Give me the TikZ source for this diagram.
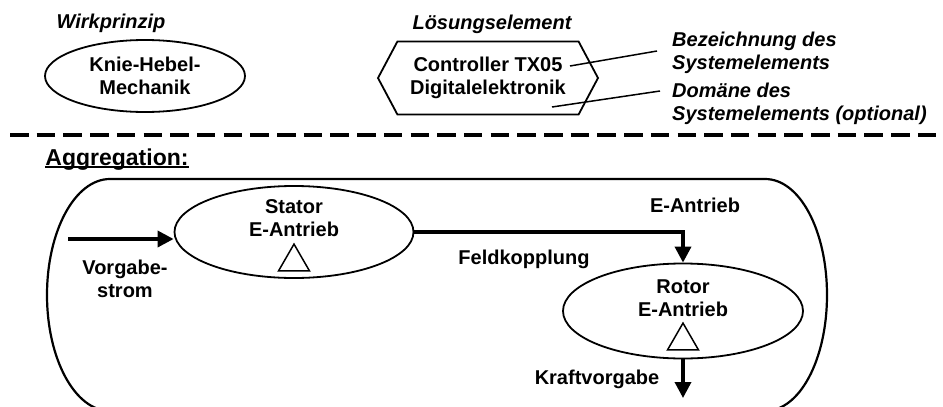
\documentclass[tikz,border=0pt]{standalone}
\usepackage{fontspec}
\setmainfont{Liberation Sans}
\usetikzlibrary{
	arrows.meta,
	positioning,
	calc,
	shapes.geometric,
	shapes.symbols
}

\begin{document}
\begin{tikzpicture}[
		x=1pt, y=-1pt,
		every node/.style={font=\bfseries\fontsize{20}{23}\selectfont, align=center, inner sep=0pt},
		heading/.style={font=\bfseries\itshape\fontsize{20}{23}\selectfont},
		note/.style={font=\bfseries\itshape\fontsize{20}{23.5}\selectfont, align=left, anchor=west},
		principle/.style={draw, ellipse, line width=1.8pt, minimum width=200pt, minimum height=72pt},
		solution/.style={draw, signal, signal to=west and east, signal pointer angle=124, line width=1.8pt, minimum width=220pt, minimum height=73pt},
		part/.style={draw, ellipse, line width=1.8pt, minimum width=239pt, minimum height=92pt},
		marker/.style={draw, regular polygon, regular polygon sides=3, line width=1.5pt, minimum size=35.8pt},
		frame/.style={line width=2.2pt},
		sep/.style={line width=4.5pt, dash pattern=on 18.5pt off 8.2pt},
		callout/.style={line width=1.5pt},
		arrow/.style={line width=3.5pt, -{Triangle[length=16pt, width=16pt]}}
		]
		
		\useasboundingbox (0,0) rectangle (943,407);
		\clip (0,0) rectangle (943,407);
		
		% Legend
		\node[heading] (wirk) at (111,23) {Wirkprinzip};
		\node[principle] (knie) at (145,76) {Knie-Hebel-\\Mechanik};
		\node[heading] (loes) at (492,24) {Lösungselement};
		\node[solution] (ctrl) at (488,78) {Controller TX05\\Digitalelektronik};
		\node[note] (bez) at (672,53) {Bezeichnung des\\Systemelements};
		\node[note] (dom) at (672,104) {Domäne des\\Systemelements (optional)};
		
		% Callouts
		\coordinate (txend) at (570,66);
		\coordinate (domend) at (552,107);
		\draw[callout] (txend) -- ([xshift=-15pt, yshift=2pt]bez.west);
		\draw[callout] (domend) -- ([xshift=-12pt, yshift=13pt]dom.west);
		
		% Separator
		\coordinate (sepL) at (10,135);
		\coordinate (sepR) at (943,135);
		\draw[sep] (sepL) -- (sepR);
		
		% Aggregation
		\node[font=\bfseries\fontsize{23}{26}\selectfont] (aggr) at (117,160) {Aggregation:};
		\draw[line width=2.2pt] ([yshift=-1.5pt]aggr.base west) -- ([yshift=-1.5pt]aggr.base east);
		\draw[frame] (110,179) -- (765,179)
			.. controls (800,179) and (827,231) .. (827,295)
			.. controls (827,359) and (800,411) .. (765,411)
			-- (110,411)
			.. controls (75,411) and (47,359) .. (47,295)
			.. controls (47,231) and (75,179) .. cycle;
		\node (antrieb) at (695,205) {E-Antrieb};
		
		% Parts
		\node[part] (stator) at (294,232) {};
		\node (statortxt) at (294,218) {Stator\\E-Antrieb};
		\node[marker] (statortri) at (294,262) {};
		
		\node[part, minimum width=240pt, minimum height=95pt] (rotor) at (683,311) {};
		\node (rotortxt) at (683,298) {Rotor\\E-Antrieb};
		\node[marker] (rotortri) at (683,341) {};
		
		% Flows
		\coordinate (vin) at (68,239);
		\coordinate (kout) at (683,398);
		\draw[arrow] (vin) -- (stator.west |- vin);
		\node (vorgabe) at (125,279) {Vorgabe-\\strom};
		\draw[arrow] (stator.east) -| (rotor.north);
		\node (feld) at (524,259) {Feldkopplung};
		\draw[arrow] (rotor.south) -- (kout);
		\node (kraft) at (597,379) {Kraftvorgabe};
		
	\end{tikzpicture}
\end{document}
